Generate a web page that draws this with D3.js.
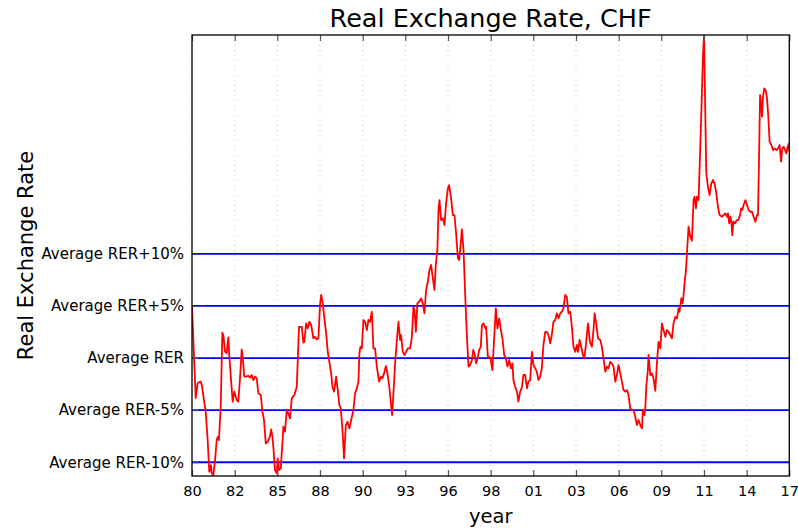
<!DOCTYPE html>
<html><head><meta charset="utf-8">
<script src="https://cdn.jsdelivr.net/npm/d3@7"></script>
<style>body{margin:0;background:#fff}svg{display:block}text{font-family:"DejaVu Sans",sans-serif}</style>
</head><body><svg id="c" width="798" height="529"></svg>
<script>
const years = [1980.00,1980.23,1980.35,1980.54,1980.62,1980.74,1980.85,1980.97,1981.07,1981.18,1981.22,1981.32,1981.43,1981.53,1981.59,1981.67,1981.78,1981.88,1981.94,1982.05,1982.15,1982.25,1982.31,1982.42,1982.52,1982.62,1982.77,1982.87,1982.98,1983.08,1983.14,1983.24,1983.35,1983.49,1983.59,1983.70,1983.80,1983.90,1984.01,1984.11,1984.26,1984.36,1984.46,1984.57,1984.69,1984.83,1984.90,1984.98,1985.04,1985.14,1985.25,1985.31,1985.39,1985.50,1985.60,1985.66,1985.76,1985.87,1985.97,1986.07,1986.18,1986.34,1986.49,1986.63,1986.80,1986.90,1986.96,1987.07,1987.17,1987.27,1987.38,1987.52,1987.62,1987.73,1987.83,1987.93,1988.00,1988.10,1988.20,1988.31,1988.41,1988.51,1988.62,1988.70,1988.80,1988.93,1989.03,1989.13,1989.22,1989.32,1989.42,1989.53,1989.63,1989.75,1989.86,1990.00,1990.10,1990.21,1990.31,1990.37,1990.43,1990.52,1990.62,1990.72,1990.83,1990.93,1991.03,1991.14,1991.24,1991.34,1991.45,1991.59,1991.70,1991.79,1991.90,1992.01,1992.09,1992.21,1992.30,1992.40,1992.49,1992.58,1992.69,1992.79,1992.89,1992.95,1993.06,1993.16,1993.26,1993.37,1993.51,1993.62,1993.72,1993.78,1993.87,1993.96,1994.07,1994.19,1994.30,1994.40,1994.50,1994.61,1994.71,1994.81,1994.92,1995.02,1995.10,1995.20,1995.27,1995.33,1995.43,1995.54,1995.64,1995.74,1995.85,1995.93,1996.05,1996.16,1996.26,1996.36,1996.47,1996.55,1996.63,1996.72,1996.82,1996.92,1997.03,1997.13,1997.23,1997.34,1997.42,1997.50,1997.60,1997.71,1997.79,1997.89,1997.96,1998.06,1998.16,1998.22,1998.33,1998.41,1998.49,1998.53,1998.61,1998.70,1998.82,1998.92,1999.03,1999.13,1999.23,1999.34,1999.44,1999.54,1999.65,1999.75,1999.85,1999.91,2000.02,2000.13,2000.22,2000.33,2000.44,2000.53,2000.64,2000.75,2000.84,2000.95,2001.06,2001.15,2001.26,2001.36,2001.46,2001.57,2001.67,2001.77,2001.88,2001.98,2002.08,2002.19,2002.29,2002.39,2002.50,2002.60,2002.70,2002.81,2002.91,2003.01,2003.12,2003.22,2003.32,2003.43,2003.53,2003.63,2003.74,2003.84,2003.91,2004.01,2004.11,2004.22,2004.30,2004.40,2004.53,2004.65,2004.77,2004.87,2004.94,2005.04,2005.15,2005.29,2005.39,2005.49,2005.60,2005.70,2005.80,2005.91,2006.01,2006.11,2006.22,2006.32,2006.42,2006.53,2006.63,2006.73,2006.84,2006.94,2007.04,2007.15,2007.25,2007.35,2007.46,2007.56,2007.66,2007.77,2007.87,2007.93,2008.02,2008.08,2008.14,2008.24,2008.28,2008.39,2008.49,2008.59,2008.70,2008.80,2008.90,2009.01,2009.11,2009.21,2009.32,2009.42,2009.52,2009.63,2009.73,2009.83,2009.94,2010.04,2010.14,2010.20,2010.31,2010.39,2010.45,2010.51,2010.60,2010.66,2010.76,2010.87,2010.97,2011.07,2011.13,2011.22,2011.28,2011.38,2011.44,2011.55,2011.65,2011.72,2011.78,2011.86,2011.96,2012.06,2012.17,2012.27,2012.37,2012.48,2012.58,2012.68,2012.83,2012.93,2013.04,2013.14,2013.20,2013.28,2013.35,2013.41,2013.47,2013.53,2013.64,2013.74,2013.84,2013.95,2014.01,2014.09,2014.17,2014.28,2014.38,2014.48,2014.59,2014.69,2014.79,2014.90,2015.00,2015.06,2015.12,2015.19,2015.25,2015.31,2015.37,2015.45,2015.53,2015.62,2015.70,2015.78,2015.89,2015.99,2016.09,2016.20,2016.30,2016.40,2016.49,2016.57,2016.65,2016.74,2016.82,2016.90,2016.98,2017.00];
const rerDeviation = [4.9,-3.84,-2.40,-2.27,-2.69,-4.03,-5.15,-7.87,-10.91,-10.27,-11.04,-11.23,-9.79,-7.87,-7.58,-7.87,-4.67,2.43,2.21,0.60,0.48,1.99,0.29,-2.11,-4.19,-3.23,-4.03,-4.19,-1.79,0.83,0.12,-1.79,-1.79,-1.70,-1.89,-1.63,-2.11,-1.79,-1.95,-3.39,-3.55,-5.15,-5.95,-8.19,-8.03,-7.55,-6.84,-7.55,-8.51,-10.75,-11.07,-9.63,-10.75,-10.59,-8.19,-6.59,-7.07,-4.99,-5.31,-5.79,-3.87,-3.55,-2.75,3.00,3.00,1.47,1.56,3.33,2.85,3.48,3.17,1.89,2.04,1.79,1.89,5.09,6.05,5.25,3.81,2.37,0.60,-0.36,-1.47,-2.75,-3.23,-1.79,-3.07,-4.51,-4.83,-6.91,-9.63,-6.43,-6.11,-6.75,-5.95,-4.99,-3.39,-2.91,-2.27,0.45,1.08,0.93,3.65,3.48,2.69,3.65,3.48,4.44,0.93,0.93,-0.83,-2.27,-1.79,-1.95,-1.47,-0.77,-1.31,-2.59,-4.03,-5.47,-3.07,-0.51,1.73,3.48,1.73,2.21,0.60,0.29,0.60,0.93,0.93,2.04,4.92,4.61,2.52,5.25,5.40,5.73,5.25,4.29,6.53,7.32,8.45,8.93,7.65,6.53,8.93,10.36,14.20,15.16,13.24,13.41,12.76,14.85,16.29,16.60,15.33,13.72,13.72,11.97,9.57,9.41,10.68,12.35,10.36,6.21,2.04,-0.83,-0.67,-0.19,0.77,0.45,-0.51,0.12,0.77,1.08,3.17,3.33,2.85,3.00,0.00,0.10,0.00,-0.36,-1.15,1.41,4.77,2.85,3.81,2.69,1.89,0.29,-0.03,-0.83,-0.19,-0.99,-0.51,-2.11,-2.75,-3.23,-4.19,-3.23,-2.75,-1.63,-1.63,-2.91,-2.27,-2.11,0.60,-0.67,-0.99,-1.31,-2.11,-1.79,-0.99,1.25,2.52,2.52,2.21,1.41,2.21,3.48,3.65,4.29,3.81,4.29,4.44,4.77,6.05,5.88,4.29,4.44,3.00,1.08,0.60,1.25,0.60,1.73,1.08,0.29,-0.03,1.25,3.33,1.56,1.08,2.69,4.29,3.33,1.89,1.73,1.08,-0.03,-1.31,-0.83,-0.99,-0.36,-0.51,-0.83,-2.27,-1.63,-0.67,-1.47,-2.27,-3.07,-3.23,-3.07,-3.55,-4.83,-4.99,-4.99,-5.63,-6.43,-5.95,-6.43,-6.75,-4.99,-5.47,-4.83,-2.75,-1.15,0.29,-1.63,-1.47,-1.95,-3.14,-0.51,1.56,0.93,3.33,2.69,2.04,2.69,2.52,2.21,1.89,3.33,3.96,3.81,4.77,4.44,5.73,5.25,6.05,7.17,8.45,10.05,12.60,11.64,11.26,15.16,15.48,14.37,15.48,15.16,18.04,23.48,28.92,31.00,25.08,17.73,16.44,15.64,16.77,17.08,16.77,15.81,14.52,13.72,13.56,13.72,13.89,13.56,13.89,12.93,13.56,13.08,11.80,13.08,12.93,13.24,13.24,13.72,14.37,14.20,14.68,15.16,14.68,14.20,14.04,14.04,13.56,13.08,13.72,13.72,18.69,25.24,24.60,23.16,25.08,25.88,25.72,24.92,23.16,20.76,20.44,19.96,20.12,19.96,20.12,20.44,18.84,20.12,20.28,19.96,19.64,20.28,20.60,19.80];
const refLevels = [-10, -5, 0, 5, 10];
const refLabels = ["Average RER-10%", "Average RER-5%", "Average RER", "Average RER+5%", "Average RER+10%"];
const xTickLabels = ["80","82","85","88","90","93","96","98","01","03","06","09","11","14","17"];
const xStart = 1980, xEnd = 2017;
const yMin = -11.32, yMax = 31.0;

const W = 798, H = 529;
const m = {l:192, t:35, r:8.7, b:53};
const svg = d3.select("#c");
const x = d3.scaleLinear().domain([xStart, xEnd]).range([m.l, W - m.r]);
const y = d3.scaleLinear().domain([yMin, yMax]).range([H - m.b, m.t]);
const tickVals = xTickLabels.map((d,i) => xStart + i*(xEnd - xStart)/(xTickLabels.length-1));

const g = svg.append("g");
g.selectAll(".vg").data(tickVals).join("line")
  .attr("x1", d=>x(d)).attr("x2", d=>x(d)).attr("y1", y(yMin)).attr("y2", y(yMax))
  .attr("stroke", "#c8c8c8").attr("stroke-width", 1).attr("stroke-dasharray", "1,4");

svg.append("clipPath").attr("id","clip").append("rect")
  .attr("x", m.l).attr("y", m.t).attr("width", W-m.r-m.l).attr("height", H-m.b-m.t);

g.selectAll(".ref").data(refLevels).join("line")
  .attr("x1", x(xStart)).attr("x2", x(xEnd)).attr("y1", d=>y(d)).attr("y2", d=>y(d))
  .attr("stroke", "#0000ff").attr("stroke-width", 1.8);

const pts = years.map((t,i)=>[t, rerDeviation[i]]);
g.append("path").datum(pts)
  .attr("clip-path","url(#clip)")
  .attr("fill","none").attr("stroke","#ff0000").attr("stroke-width",1.8).attr("stroke-linejoin","round")
  .attr("d", d3.line().x(d=>x(d[0])).y(d=>y(d[1])));

const xb = d3.axisBottom(x).tickValues(tickVals).tickFormat((d,i)=>xTickLabels[i]).tickSizeInner(-6).tickSizeOuter(0).tickPadding(10);
const xa = svg.append("g").attr("transform",`translate(0,${H-m.b})`).call(xb);
xa.select(".domain").remove();
xa.selectAll(".tick line").attr("stroke","#555").attr("stroke-width",1.2);
xa.selectAll("text").attr("font-size",14.5).attr("fill","#000").attr("font-family","DejaVu Sans");
const xt = d3.axisTop(x).tickValues(tickVals).tickFormat("").tickSizeInner(-6).tickSizeOuter(0);
const xta = svg.append("g").attr("transform",`translate(0,${m.t})`).call(xt);
xta.select(".domain").remove();
xta.selectAll(".tick line").attr("stroke","#555").attr("stroke-width",1.2);

const yl = d3.axisLeft(y).tickValues(refLevels).tickFormat((d,i)=>refLabels[i]).tickSizeInner(-6).tickSizeOuter(0).tickPadding(8);
const ya = svg.append("g").attr("transform",`translate(${m.l},0)`).call(yl);
ya.select(".domain").remove();
ya.selectAll(".tick line").attr("stroke","#555");
ya.selectAll("text").attr("font-size",15).attr("fill","#000").attr("font-family","DejaVu Sans");

svg.append("rect").attr("x", m.l).attr("y", m.t).attr("width", W-m.r-m.l).attr("height", H-m.b-m.t)
  .attr("fill","none").attr("stroke","#000").attr("stroke-width",1.3);

svg.append("text").attr("x", (m.l + W - m.r)/2).attr("y", 27).attr("text-anchor","middle")
  .attr("font-size", 25.5).text("Real Exchange Rate, CHF");
svg.append("text").attr("x", (m.l + W - m.r)/2).attr("y", 523).attr("text-anchor","middle")
  .attr("font-size", 19.5).text("year");
svg.append("text").attr("transform", `translate(33,${(m.t + H - m.b)/2}) rotate(-90)`).attr("text-anchor","middle")
  .attr("font-size", 21).text("Real Exchange Rate");
</script></body></html>
